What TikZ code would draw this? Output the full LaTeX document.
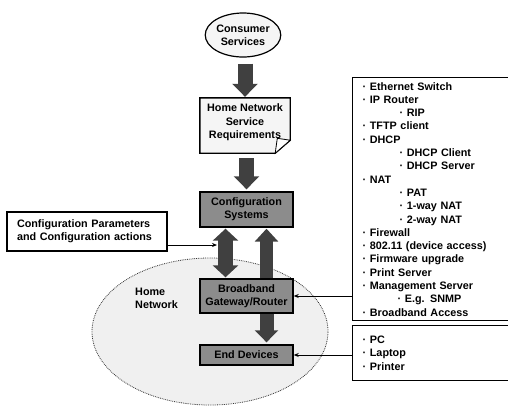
\documentclass[tikz,border=0pt]{standalone}
\usepackage{fontspec}
\setmainfont{Liberation Sans}
\usetikzlibrary{shapes,arrows.meta,positioning,backgrounds}

\begin{document}
\begin{tikzpicture}[
  x=1pt, y=-1pt,
  font=\fontsize{10.8}{13.3}\selectfont\bfseries,
  box/.style={
    rectangle,
    draw=black,
    line width=1.4pt,
    minimum width=93pt,
    inner sep=0pt,
    align=center
  },
  graybox/.style={box, fill=black!45},
  fatarrow/.style={line width=15pt, draw=black!75, -{Triangle[width=25pt,length=13pt]}},
  fatboth/.style={line width=15pt, draw=black!75,
    {Triangle[width=25pt,length=12pt]}-{Triangle[width=25pt,length=12pt]}},
  pointer/.style={-{Stealth[length=5pt,width=4pt]}, line width=0.9pt},
  listbox/.style={
    rectangle,
    draw=black,
    line width=1.4pt,
    anchor=north west,
    minimum width=175pt,
    text width=155pt,
    inner xsep=10pt,
    align=left
  }
]

\useasboundingbox (0,0) rectangle (508,408);
\clip (0,0) rectangle (508,408);

% home network area
\node[ellipse, draw=black!80, densely dotted, line width=0.8pt, fill=black!6,
  minimum width=236pt, minimum height=147pt] (homenet) at (210,331.5) {};
\node[anchor=west, align=left, inner sep=0pt] (homelbl) at (135,298.5) {Home\\Network};

% main column
\node[ellipse, draw=black, line width=1.2pt, fill=black!4, minimum width=72pt,
  minimum height=44pt, inner sep=0pt, align=center] (cons) at (243,35) {Consumer\\Services};
\node[align=center, minimum width=90pt, minimum height=55pt, inner sep=0pt,
  text depth=8.3pt] (req) at (245,125.5) {Home Network\\Service\\Requirements};
\begin{scope}[on background layer]
  \filldraw[fill=black!4, line width=1.4pt]
    (req.north west) -- (req.north east) -- ([yshift=13pt]req.south east)
    -- ([xshift=-15pt]req.south east) -- (req.south west) -- cycle;
  \filldraw[fill=white, line width=0.8pt]
    ([yshift=13pt]req.south east) -- ([xshift=-15pt]req.south east)
    -- ([xshift=-12.9pt,yshift=14.9pt]req.south east) -- cycle;
\end{scope}
\node[graybox, minimum height=35pt] (conf) at (246.5,209.5) {Configuration\\Systems};
\node[graybox, minimum height=34pt] (bb) at (246.5,296) {Broadband\\Gateway/Router};
\node[graybox, minimum height=20pt] (end) at (246.5,355) {End Devices};

\node[box, minimum width=160pt, minimum height=39pt, text width=140pt, inner xsep=10pt,
  align=left] (params) at (87,231.5) {Configuration Parameters\\and Configuration actions};

% feature lists
\node[listbox, minimum height=243pt] (feat) at (352,77) {%
  · Ethernet Switch\\
  · IP Router\\
  \hspace*{37pt}· RIP\\
  · TFTP client\\
  · DHCP\\
  \hspace*{37pt}· DHCP Client\\
  \hspace*{37pt}· DHCP Server\\
  · NAT\\
  \hspace*{37pt}· PAT\\
  \hspace*{37pt}· 1-way NAT\\
  \hspace*{37pt}· 2-way NAT\\
  · Firewall\\
  · 802.11 (device access)\\
  · Firmware upgrade\\
  · Print Server\\
  · Management Server\\
  \hspace*{35pt}· E.g. SNMP\\
  · Broadband Access};
\node[listbox, minimum height=55pt] (dev) at (352,325) {%
  · PC\\
  · Laptop\\
  · Printer};

\coordinate (shaftleft) at (217,245);

\draw[fatarrow, shorten <=6pt, shorten >=1pt] (req.north |- cons.south) -- (req.north);
\draw[fatarrow, shorten <=5pt, shorten >=2pt] (conf.north |- req.south) -- (conf.north);
\draw[fatboth, shorten <=1pt, shorten >=1pt] ([xshift=-21pt]conf.south) -- ([xshift=-21pt]bb.north);
\draw[fatarrow, line width=13pt, -{Triangle[width=23pt,length=13pt]}, shorten >=1pt]
  ([xshift=20pt]bb.north) -- ([xshift=20pt]conf.south);
\draw[fatarrow, line width=14pt, -{Triangle[width=23pt,length=12pt]}, shorten >=2pt]
  ([xshift=20pt]bb.south) -- ([xshift=20pt]end.north);

\draw[pointer] (params.east |- shaftleft) -- (shaftleft);
\draw[pointer] (feat.west |- bb.east) -- (bb.east);
\draw[pointer] (dev.west |- end.east) -- (end.east);

\end{tikzpicture}
\end{document}
